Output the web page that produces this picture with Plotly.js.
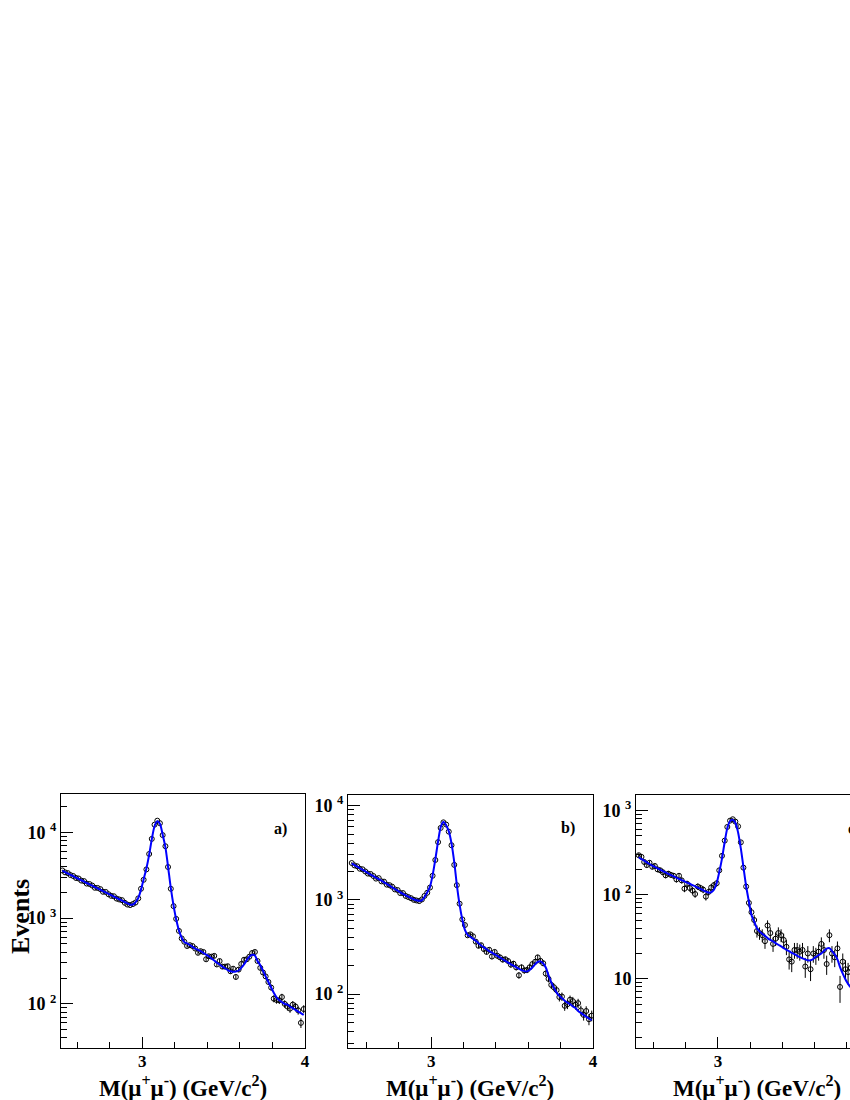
<!DOCTYPE html>
<html>
<head>
<meta charset="utf-8">
<script src="https://cdn.plot.ly/plotly-3.0.1.min.js"></script>
<style>
html, body { margin: 0; padding: 0; overflow: hidden; background: #fff; }
#plot { width: 900px; height: 1100px; }
</style>
</head>
<body>
<div id="plot"></div>
<script>
// bin centres, GeV/c^2
const mass = [
  2.508, 2.525, 2.542, 2.558, 2.575, 2.592, 2.608, 2.625, 2.642, 2.658,
  2.675, 2.692, 2.708, 2.725, 2.742, 2.758, 2.775, 2.792, 2.808, 2.825,
  2.842, 2.858, 2.875, 2.892, 2.908, 2.925, 2.942, 2.958, 2.975, 2.992,
  3.008, 3.025, 3.042, 3.058, 3.075, 3.092, 3.108, 3.125, 3.142, 3.158,
  3.175, 3.192, 3.208, 3.225, 3.242, 3.258, 3.275, 3.292, 3.308, 3.325,
  3.342, 3.358, 3.375, 3.392, 3.408, 3.425, 3.442, 3.458, 3.475, 3.492,
  3.508, 3.525, 3.542, 3.558, 3.575, 3.592, 3.608, 3.625, 3.642, 3.658,
  3.675, 3.692, 3.708, 3.725, 3.742, 3.758, 3.775, 3.792, 3.808, 3.825,
  3.842, 3.858, 3.875, 3.892, 3.908, 3.925, 3.942, 3.958, 3.975, 3.992
];

// panel a)
const countsA = [
  3600, 3420, 3350, 3180, 3100, 2940, 2900, 2740, 2700, 2530,
  2500, 2400, 2260, 2250, 2180, 2030, 2020, 1900, 1820, 1800,
  1690, 1650, 1620, 1510, 1440, 1420, 1460, 1520, 1700, 2200,
  2800, 3700, 5600, 8400, 12300, 13700, 12800, 9300, 6900, 3950,
  2200, 1380, 980, 710, 580, 530, 473, 484, 473, 442,
  394, 412, 403, 331, 359, 355, 363, 288, 316, 272,
  272, 275, 240, 257, 206, 251, 292, 327, 331, 355,
  392, 403, 316, 263, 232, 209, 180, 155, 115, 111,
  110, 120, 100, 93, 88, 98, 93, 84, 60, 87
];
const fitA = [
  3575, 3445, 3315, 3200, 3085, 2970, 2870, 2767, 2667, 2570,
  2478, 2388, 2305, 2223, 2143, 2065, 1991, 1919, 1853, 1786,
  1722, 1660, 1600, 1542, 1489, 1435, 1440, 1530, 1720, 2150,
  2850, 3800, 5500, 8300, 11800, 13500, 12600, 9400, 6700, 4000,
  2250, 1400, 970, 720, 590, 525, 507, 484, 462, 442,
  427, 412, 394, 376, 359, 339, 320, 302, 288, 272,
  260, 248, 240, 237, 239, 245, 263, 288, 324, 355,
  374, 367, 316, 282, 243, 209, 180, 155, 135, 119,
  110, 105, 100, 98, 93, 89, 85, 81, 78, 74
];

// panel b)
const countsB = [
  2460, 2320, 2270, 2140, 2110, 2000, 1900, 1880, 1790, 1680,
  1700, 1570, 1560, 1450, 1430, 1380, 1290, 1270, 1180, 1180,
  1100, 1070, 1040, 1000, 985, 970, 1010, 1100, 1190, 1350,
  1800, 2650, 4100, 5800, 6650, 6300, 5300, 3800, 2350, 1430,
  910, 620, 540, 420, 430, 410, 360, 325, 330, 300,
  280, 295, 250, 280, 255, 245, 232, 234, 224, 205,
  210, 192, 158, 192, 178, 180, 192, 208, 220, 245,
  225, 212, 165, 145, 125, 118, 110, 93, 94, 75,
  78, 87, 84, 77, 80, 67, 60, 66, 54, 59
];
const fitB = [
  2432, 2339, 2249, 2168, 2084, 2004, 1928, 1854, 1786, 1718,
  1660, 1596, 1535, 1472, 1413, 1355, 1300, 1250, 1202, 1159,
  1117, 1079, 1042, 1012, 989, 977, 989, 1070, 1200, 1380,
  1820, 2690, 4170, 5890, 6760, 6170, 5370, 3980, 2510, 1445,
  891, 617, 480, 425, 405, 387, 367, 347, 327, 313,
  299, 285, 275, 263, 254, 244, 234, 225, 216, 207,
  200, 193, 186, 179, 175, 174, 180, 191, 207, 219,
  222, 211, 191, 158, 133, 117, 103.5, 95.5, 90, 85,
  81, 78, 74, 71, 66, 63, 60, 57.5, 55, 52.7
];

// panel c) (cut at the right edge of the figure)
const countsC = [
  295, 282, 245, 225, 240, 215, 220, 200, 195, 185,
  170, 178, 172, 168, 152, 168, 148, 118, 135, 120,
  112, 102, 125, 120, 115, 95, 108, 122, 130, 137,
  195, 290, 440, 640, 760, 790, 740, 650, 420, 210,
  125, 80, 62, 50, 37, 35, 33, 28, 43, 35,
  26, 30, 35, 33, 29, 24, 17, 16, 22, 22,
  21, 22, 14, 20, 13, 20, 19, 21, 26, 22,
  15, 33, 20, 18, 23, 8, 16, 13, 12, 13.5
];
const fitC = [
  279, 265, 254, 243, 232, 222, 214, 206, 198, 191,
  184, 177, 171, 165, 160, 154, 149, 144, 139, 135,
  130, 126, 121, 117, 113, 109, 106, 107, 115, 138,
  186, 269, 427, 617, 750, 776, 716, 550, 355, 214,
  126, 83, 57.5, 48, 40, 36.7, 34.3, 32.4, 30.5, 29,
  27.9, 26.6, 25.4, 24.3, 23.2, 22.1, 21.3, 20.4, 19.6, 18.8,
  18.1, 17.5, 17, 16.6, 16.6, 17.2, 18.2, 19.1, 20, 21.4,
  22.9, 23.2, 21.4, 19.5, 17, 13.8, 11.5, 9.8, 8.7, 7.9,
  7.4, 7.0
];

const xTickVals = [3, 4];
const xTickText = ['3', '4'];
const xMinorVals = [2.6, 2.8, 3.2, 3.4, 3.6, 3.8];
const yMinorVals = [2, 3, 4, 5, 6, 7, 8, 9, 20, 30, 40, 50, 60, 70, 80, 90,
  200, 300, 400, 500, 600, 700, 800, 900, 2000, 3000, 4000, 5000, 6000, 7000, 8000, 9000, 20000];
const yTickValsAB = [100, 1000, 10000];
const yTickTextAB = ['10\u00a0<sup>2</sup>', '10\u00a0<sup>3</sup>', '10\u00a0<sup>4</sup>'];
const yTickValsC = [10, 100, 1000];
const yTickTextC = ['10', '10\u00a0<sup>2</sup>', '10\u00a0<sup>3</sup>'];
const panelLabels = ['a)', 'b)', 'c)'];
const xTitle = 'M(\u03bc<sup>+</sup>\u03bc<sup>-</sup>) (GeV/c<sup>2</sup>)';

const W = 900, H = 1100;
const serif = 'Liberation Serif, Times New Roman, serif';
function fx(p) { return p / W; }
function fy(p) { return 1 - p / H; }

function dataTrace(y, xa, ya) {
    return {
        x: mass.slice(0, y.length), y: y, xaxis: xa, yaxis: ya,
        type: 'scatter', mode: 'markers', hoverinfo: 'skip',
        marker: {symbol: 'circle-open', size: 5, color: 'black', line: {width: 1, color: 'black'}},
        error_y: {type: 'sqrt', color: 'black', thickness: 1, width: 0}
    };
}
function fitTrace(y, xa, ya) {
    return {
        x: mass.slice(0, y.length), y: y, xaxis: xa, yaxis: ya,
        type: 'scatter', mode: 'lines', hoverinfo: 'skip',
        line: {color: '#0000ff', width: 2, shape: 'spline', smoothing: 0.8}
    };
}

function xAxis(left, right, range, anchor) {
    return {
        domain: [fx(left), fx(right)], range: range, anchor: anchor,
        tickmode: 'array', tickvals: xTickVals, ticktext: xTickText,
        ticks: 'inside', ticklen: 11, tickwidth: 1, tickcolor: 'black',
        ticklabelstandoff: -2,
        showline: true, linecolor: 'black', linewidth: 1, mirror: true,
        showgrid: false, zeroline: false,
        tickfont: {family: serif, size: 17, weight: 'bold', color: 'black'},
        minor: {tickmode: 'array', tickvals: xMinorVals, ticks: 'inside', ticklen: 6,
                tickwidth: 1, tickcolor: 'black', showgrid: false}
    };
}
function yAxis(top, range, anchor, vals, text) {
    return {
        type: 'log', domain: [fy(1048), fy(top)], range: range, anchor: anchor,
        tickmode: 'array', tickvals: vals, ticktext: text,
        ticks: 'inside', ticklen: 12, tickwidth: 1, tickcolor: 'black',
        showline: true, linecolor: 'black', linewidth: 1, mirror: true,
        showgrid: false, zeroline: false,
        tickfont: {family: serif, size: 18, weight: 'bold', color: 'black'},
        minor: {tickmode: 'array', tickvals: yMinorVals, ticks: 'inside', ticklen: 6,
                tickwidth: 1, tickcolor: 'black', showgrid: false}
    };
}

function note(text, x, y, size, angle) {
    return {
        xref: 'paper', yref: 'paper', x: fx(x), y: fy(y), text: text,
        showarrow: false, xanchor: 'center', yanchor: 'middle', textangle: angle || 0,
        font: {family: serif, size: size, weight: 'bold', color: 'black'}
    };
}

let traces = [
    dataTrace(countsA, 'x', 'y'), fitTrace(fitA, 'x', 'y'),
    dataTrace(countsB, 'x2', 'y2'), fitTrace(fitB, 'x2', 'y2'),
    dataTrace(countsC, 'x3', 'y3'), fitTrace(fitC, 'x3', 'y3')
];

let layout = {
    width: W, height: H,
    margin: {l: 0, r: 0, t: 0, b: 0},
    paper_bgcolor: 'white', plot_bgcolor: 'white',
    showlegend: false,
    xaxis: xAxis(61, 305, [2.5, 4], 'y'),
    yaxis: yAxis(794, [1.485, 4.448], 'x', yTickValsAB, yTickTextAB),
    xaxis2: xAxis(348, 593, [2.485, 4], 'y2'),
    yaxis2: yAxis(795, [1.427, 4.113], 'x2', yTickValsAB, yTickTextAB),
    xaxis3: xAxis(636, 879, [2.491, 4], 'y3'),
    yaxis3: yAxis(795, [0.177, 3.186], 'x3', yTickValsC, yTickTextC),
    annotations: [
        note('Events', 20, 917, 26, -90),
        note(xTitle, 183, 1086, 23),
        note(xTitle, 470, 1086, 23),
        note(xTitle, 757, 1086, 23),
        note(panelLabels[0], 280, 829, 16),
        note(panelLabels[1], 568, 828, 16),
        note(panelLabels[2], 854, 829, 16)
    ]
};

Plotly.newPlot('plot', traces, layout, {staticPlot: true, displayModeBar: false});
</script>
</body>
</html>
